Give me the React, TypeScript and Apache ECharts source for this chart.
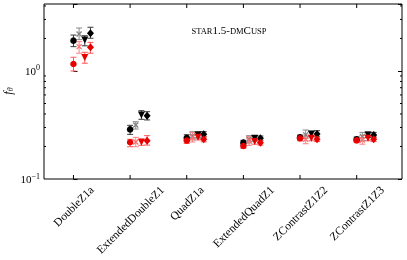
import React, { useEffect, useRef } from 'react';
import * as echarts from 'echarts';

const categories = ['DoubleZ1a', 'ExtendedDoubleZ1', 'QuadZ1a', 'ExtendedQuadZ1', 'ZContrastZ1Z2', 'ZContrastZ1Z3'];
const yTickValues = [0.1, 1];
const yMinorValues = [0.2, 0.3, 0.4, 0.5, 0.6, 0.7, 0.8, 0.9, 2, 3, 4];

// black series
const blackCircle = [1.91, 0.288, 0.240, 0.217, 0.243, 0.233];
const blackCircleErr = [[1.68, 2.15], [0.259, 0.314], [0.226, 0.257], [0.207, 0.228], [0.232, 0.255], [0.222, 0.245]];
const blackCross = [2.2, 0.316, 0.25, 0.233, 0.256, 0.248];
const blackCrossErr = [[1.95, 2.5], [0.29, 0.339], [0.23, 0.274], [0.215, 0.252], [0.238, 0.284], [0.228, 0.27]];
const blackTri = [1.94, 0.392, 0.256, 0.238, 0.261, 0.256];
const blackTriErr = [[1.71, 2.12], [0.357, 0.429], [0.24, 0.274], [0.225, 0.252], [0.248, 0.276], [0.242, 0.272]];
const blackDiamond = [2.23, 0.386, 0.259, 0.238, 0.261, 0.256];
const blackDiamondErr = [[2.01, 2.54], [0.352, 0.42], [0.245, 0.274], [0.226, 0.25], [0.246, 0.28], [0.243, 0.27]];
// red series
const redCircle = [1.16, 0.219, 0.227, 0.202, 0.238, 0.228];
const redCircleErr = [[1.0, 1.34], [0.199, 0.233], [0.213, 0.242], [0.193, 0.213], [0.226, 0.25], [0.217, 0.24]];
const redCross = [1.68, 0.22, 0.243, 0.227, 0.233, 0.23];
const redCrossErr = [[1.46, 1.87], [0.199, 0.243], [0.22, 0.27], [0.205, 0.248], [0.212, 0.255], [0.21, 0.252]];
const redTri = [1.33, 0.219, 0.243, 0.222, 0.238, 0.238];
const redTriErr = [[1.18, 1.49], [0.205, 0.235], [0.23, 0.256], [0.21, 0.234], [0.226, 0.25], [0.226, 0.25]];
const redDiamond = [1.66, 0.226, 0.233, 0.217, 0.233, 0.233];
const redDiamondErr = [[1.46, 1.84], [0.206, 0.252], [0.221, 0.246], [0.206, 0.228], [0.222, 0.245], [0.222, 0.245]];

const FONT = '"Liberation Serif", "DejaVu Serif", serif';
const CROSS = 'path://M0,0L10,10M10,0L0,10';

type SeriesDef = {
  values: number[];
  errs: number[][];
  offset: number;
  symbol: string;
  size: number | number[];
  rotate: number;
  color: string;
  errColor: string;
  stroke?: boolean;
};

const defs: SeriesDef[] = [
  { values: blackCircle, errs: blackCircleErr, offset: 0, symbol: 'circle', size: 6.5, rotate: 0, color: '#000', errColor: '#3a3a3a' },
  { values: blackCross, errs: blackCrossErr, offset: 0.1, symbol: CROSS, size: 5, rotate: 0, color: '#808080', errColor: '#8a8a8a', stroke: true },
  { values: blackTri, errs: blackTriErr, offset: 0.2, symbol: 'triangle', size: 7, rotate: 180, color: '#000', errColor: '#3a3a3a' },
  { values: blackDiamond, errs: blackDiamondErr, offset: 0.3, symbol: 'diamond', size: [7, 8], rotate: 0, color: '#000', errColor: '#3a3a3a' },
  { values: redCircle, errs: redCircleErr, offset: 0, symbol: 'circle', size: 6.5, rotate: 0, color: '#e80000', errColor: '#ff5555' },
  { values: redCross, errs: redCrossErr, offset: 0.1, symbol: CROSS, size: 5, rotate: 0, color: '#ff6f6f', errColor: '#ff7f7f', stroke: true },
  { values: redTri, errs: redTriErr, offset: 0.2, symbol: 'triangle', size: 7, rotate: 180, color: '#e80000', errColor: '#ff5555' },
  { values: redDiamond, errs: redDiamondErr, offset: 0.3, symbol: 'diamond', size: [7, 8], rotate: 0, color: '#e80000', errColor: '#ff5555' },
];

let measureCtx: CanvasRenderingContext2D | null = null;
function textWidth(t: string, font: string): number {
  if (!measureCtx) measureCtx = document.createElement('canvas').getContext('2d');
  if (!measureCtx) return t.length * 5.5;
  measureCtx.font = font;
  return measureCtx.measureText(t).width;
}

export default function App() {
  const ref = useRef<HTMLDivElement>(null);
  useEffect(() => {
    if (!ref.current) return;
    const chart = echarts.init(ref.current, undefined, { renderer: 'svg' });
    const series: any[] = [];
    defs.forEach((d) => {
      const errColor = d.errColor;
      series.push({
        type: 'custom',
        coordinateSystem: 'cartesian2d',
        data: d.errs.map((e, i) => [i + d.offset, e[0], e[1]]),
        encode: { x: 0, y: [1, 2] },
        renderItem: (params: any, api: any) => {
          const x = api.value(0);
          const lo = api.coord([x, api.value(1)]);
          const hi = api.coord([x, api.value(2)]);
          const cw = 3;
          const st = { stroke: errColor, lineWidth: 1 };
          return {
            type: 'group',
            children: [
              { type: 'line', shape: { x1: lo[0], y1: lo[1], x2: hi[0], y2: hi[1] }, style: st },
              { type: 'line', shape: { x1: lo[0] - cw, y1: lo[1], x2: lo[0] + cw, y2: lo[1] }, style: st },
              { type: 'line', shape: { x1: hi[0] - cw, y1: hi[1], x2: hi[0] + cw, y2: hi[1] }, style: st },
            ],
          };
        },
      });
      series.push({
        type: 'scatter',
        data: d.values.map((v, i) => [i + d.offset, v]),
        symbol: d.symbol,
        symbolSize: d.size,
        symbolRotate: d.rotate,
        itemStyle: d.stroke
          ? { color: 'transparent', borderColor: d.color, borderWidth: 1.3, opacity: 1 }
          : { color: d.color, opacity: 1 },
      });
    });

    // minor y ticks (both sides)
    series.push({
      type: 'custom',
      coordinateSystem: 'cartesian2d',
      data: yMinorValues.map((v) => [0, v]),
      encode: { x: 0, y: 1 },
      silent: true,
      renderItem: (params: any, api: any) => {
        const cs = params.coordSys;
        const y = api.coord([0, api.value(1)])[1];
        const st = { stroke: '#000', lineWidth: 1 };
        return {
          type: 'group',
          children: [
            { type: 'line', shape: { x1: cs.x, y1: y, x2: cs.x + 2, y2: y }, style: st },
            { type: 'line', shape: { x1: cs.x + cs.width - 2, y1: y, x2: cs.x + cs.width, y2: y }, style: st },
          ],
        };
      },
    });
    // x ticks (bottom and top) and rotated category labels
    const labelFont = `11.5px ${FONT}`;
    series.push({
      type: 'custom',
      coordinateSystem: 'cartesian2d',
      data: categories.map((c, i) => [i, 1]),
      encode: { x: 0, y: 1 },
      silent: true,
      renderItem: (params: any, api: any) => {
        const cs = params.coordSys;
        const i = api.value(0);
        const x = api.coord([i, 1])[0];
        const bottom = cs.y + cs.height;
        const top = cs.y;
        const st = { stroke: '#000', lineWidth: 1 };
        const label = categories[i];
        const L = textWidth(label, labelFont);
        const cy = bottom + 6 + (L + 8) * 0.7071 / 2;
        return {
          type: 'group',
          children: [
            { type: 'line', shape: { x1: x, y1: bottom, x2: x, y2: bottom - 4 }, style: st },
            { type: 'line', shape: { x1: x, y1: top, x2: x, y2: top + 4 }, style: st },
            {
              type: 'text',
              x: x,
              y: cy,
              rotation: Math.PI / 4,
              style: { text: label, font: labelFont, fill: '#000', align: 'center', verticalAlign: 'middle' },
            },
          ],
        };
      },
    });

    const yLabelFormatter = (v: number) => {
      const lg = Math.log10(v);
      const e = Math.round(lg);
      if (Math.abs(lg - e) > 1e-6 || !yTickValues.some((t) => Math.abs(t - v) < 1e-9)) return '';
      return `{b|10}{s|${e < 0 ? '\u2212' + Math.abs(e) : e}}`;
    };

    chart.setOption({
      animation: false,
      textStyle: { fontFamily: FONT },
      grid: { left: 44, right: 5, top: 4, bottom: 81, show: true, borderColor: '#000', borderWidth: 1, backgroundColor: 'transparent' },
      xAxis: {
        type: 'value',
        min: -0.52,
        max: 5.8,
        axisLine: { show: false },
        axisTick: { show: false },
        axisLabel: { show: false },
        splitLine: { show: false },
      },
      yAxis: [
        {
          type: 'log',
          logBase: 10,
          min: 0.1,
          max: 4.17,
          axisLine: { show: false },
          axisTick: { show: true, inside: true, length: 4, lineStyle: { color: '#000' } },
          axisLabel: {
            formatter: yLabelFormatter,
            margin: 4,
            color: '#000',
            rich: {
              b: { fontSize: 11, fontFamily: FONT, color: '#000' },
              s: { fontSize: 8, fontFamily: FONT, color: '#000', padding: [0, 0, 6, 0] },
            },
          },
          splitLine: { show: false },
        },
        {
          type: 'log',
          logBase: 10,
          min: 0.1,
          max: 4.17,
          position: 'right',
          axisLine: { show: false },
          axisTick: { show: true, inside: true, length: 4, lineStyle: { color: '#000' } },
          axisLabel: { show: false },
          splitLine: { show: false },
        },
      ],
      graphic: [
        {
          type: 'text',
          x: 229,
          y: 29,
          style: {
            text: '{sc|STAR}{n|1.5-}{sc|DM}{n|C}{sc|USP}',
            align: 'center',
            verticalAlign: 'middle',
            rich: {
              sc: { fontSize: 8.5, fontFamily: FONT, fill: '#000', color: '#000', verticalAlign: 'bottom', lineHeight: 12 },
              n: { fontSize: 11, fontFamily: FONT, fill: '#000', color: '#000', verticalAlign: 'bottom', lineHeight: 12 },
            },
          },
        },
        {
          type: 'text',
          x: 8,
          y: 91,
          rotation: Math.PI / 2,
          style: {
            text: '{f|f}{s|\u03b8}',
            align: 'center',
            verticalAlign: 'middle',
            rich: {
              f: { fontSize: 12, fontStyle: 'italic', fontFamily: FONT, color: '#000' },
              s: { fontSize: 8, fontStyle: 'italic', fontFamily: FONT, color: '#000', padding: [4, 0, 0, 0] },
            },
          },
        },
      ],
      series,
    });
    return () => chart.dispose();
  }, []);
  return <div ref={ref} style={{ position: 'fixed', left: 0, top: 0, width: 407, height: 260 }} />;
}
